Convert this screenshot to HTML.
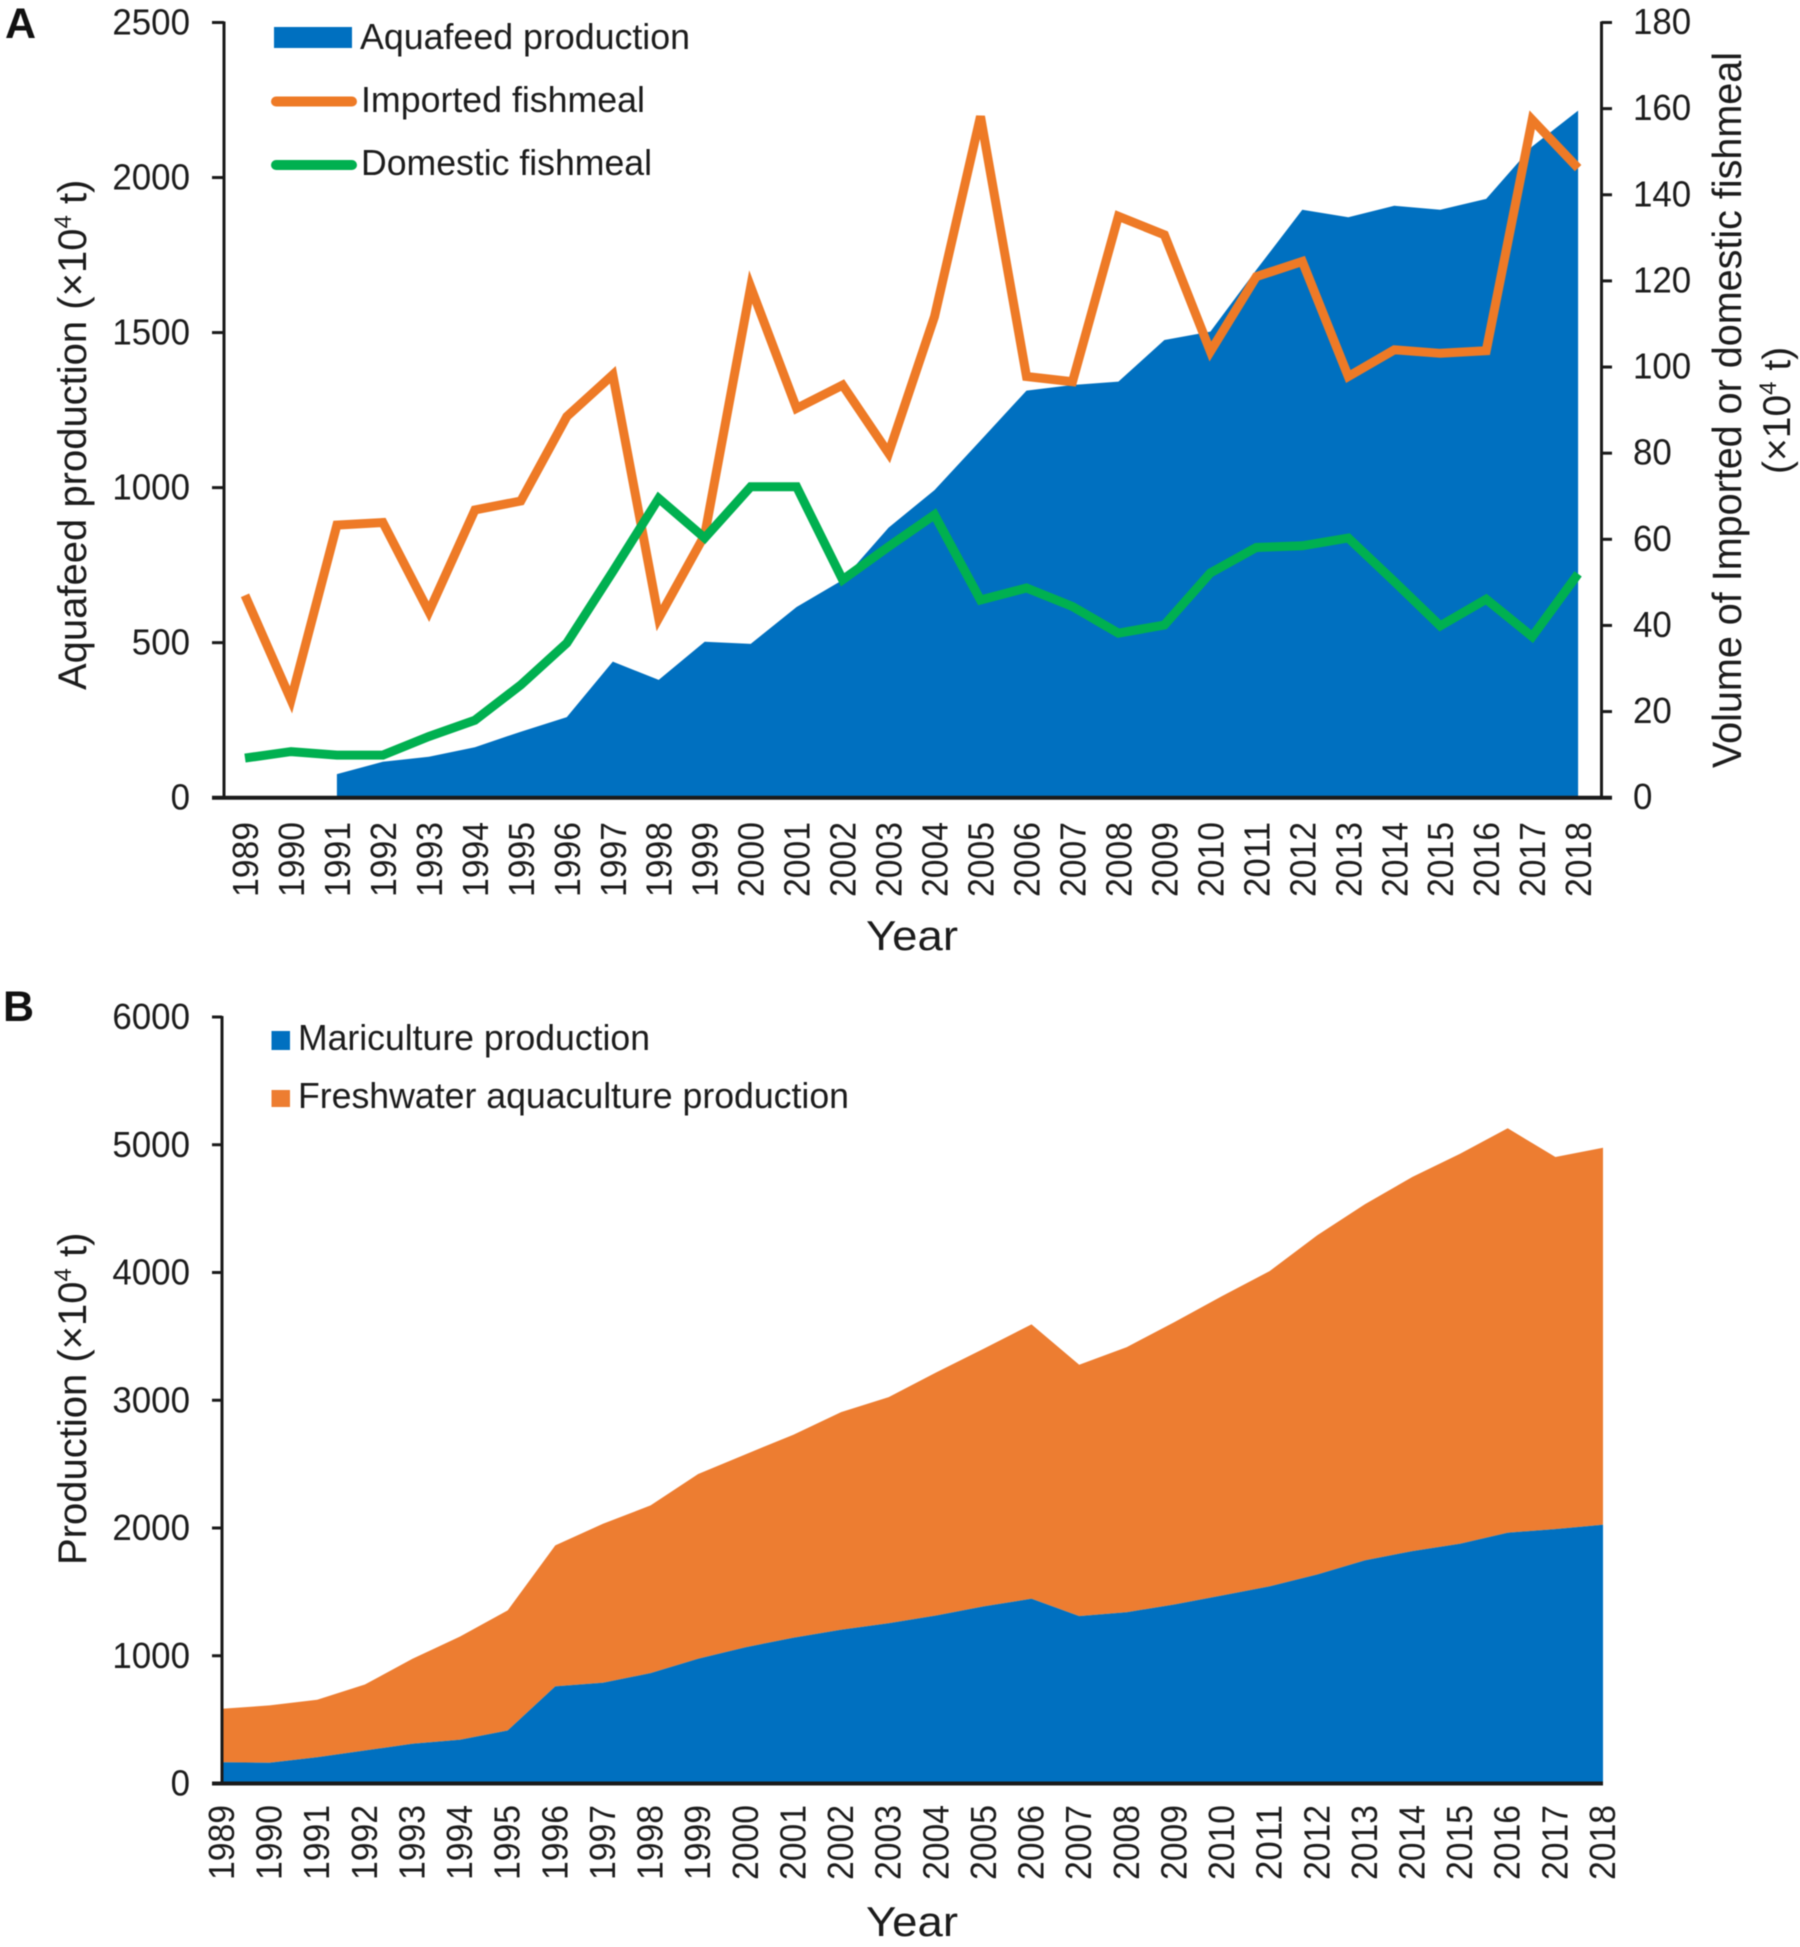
<!DOCTYPE html>
<html lang="en">
<head>
<meta charset="utf-8">
<title>Aquafeed, fishmeal and aquaculture production in China, 1989–2018</title>
<style>
  html, body { margin: 0; padding: 0; background: #fff; }
  svg { display: block; filter: blur(0.5px); }
  text { font-family: "Liberation Sans", Arial, sans-serif; fill: #1c1c1c; }
</style>
</head>
<body>
<svg id="figure" xmlns="http://www.w3.org/2000/svg" width="1800" height="1947" viewBox="0 0 1800 1947">
  <rect width="1800" height="1947" fill="#ffffff"/>

  <g id="panelA">
    <g id="a-marks"></g>
    <text x="5" y="38" font-size="43" font-weight="bold" style="fill:#111">A</text>
    <text transform="translate(86 690) rotate(-90)" font-size="40">Aquafeed production (×10<tspan dy="-15" font-size="24">4</tspan><tspan dy="15"> t)</tspan></text>
    <text transform="translate(1741 768) rotate(-90)" font-size="41" textLength="716" lengthAdjust="spacingAndGlyphs">Volume of Imported or domestic fishmeal</text>
    <text transform="translate(1790 474) rotate(-90)" font-size="39">(×10<tspan dy="-14" font-size="24">4</tspan><tspan dy="14"> t)</tspan></text>
    <text x="866" y="950" font-size="42" textLength="92" lengthAdjust="spacingAndGlyphs">Year</text>
    <g>
      <rect x="274" y="27" width="78" height="21" fill="#0070c0"/>
      <text x="360" y="49" font-size="36" textLength="330" lengthAdjust="spacingAndGlyphs">Aquafeed production</text>
      <line x1="276" y1="101.5" x2="352" y2="101.5" stroke="#ee7a26" stroke-width="10" stroke-linecap="round"/>
      <text x="361" y="112" font-size="36" textLength="284" lengthAdjust="spacingAndGlyphs">Imported fishmeal</text>
      <line x1="276" y1="165" x2="352" y2="165" stroke="#00b050" stroke-width="10" stroke-linecap="round"/>
      <text x="361" y="175" font-size="36" textLength="291" lengthAdjust="spacingAndGlyphs">Domestic fishmeal</text>
    </g>
  </g>

  <g id="panelB">
    <g id="b-marks"></g>
    <text x="3" y="1021" font-size="43" font-weight="bold" style="fill:#111">B</text>
    <text transform="translate(86 1565) rotate(-90)" font-size="40">Production (×10<tspan dy="-15" font-size="24">4</tspan><tspan dy="15"> t)</tspan></text>
    <text x="866" y="1936" font-size="42" textLength="92" lengthAdjust="spacingAndGlyphs">Year</text>
    <g>
      <rect x="271.5" y="1031" width="18.5" height="19" fill="#0070c0"/>
      <text x="298" y="1050" font-size="36" textLength="352" lengthAdjust="spacingAndGlyphs">Mariculture production</text>
      <rect x="271.5" y="1090" width="18.5" height="17" fill="#ed7d31"/>
      <text x="298" y="1108" font-size="36" textLength="551" lengthAdjust="spacingAndGlyphs">Freshwater aquaculture production</text>
    </g>
  </g>
</svg>

<script>
// Shared categories
const years = [1989,1990,1991,1992,1993,1994,1995,1996,1997,1998,1999,2000,2001,2002,2003,2004,2005,2006,2007,2008,2009,2010,2011,2012,2013,2014,2015,2016,2017,2018];

// Panel A values (null = not reported)
const aquafeedProduction = [null,null,76,116,132,163,213,260,439,380,503,496,615,702,871,992,1152,1313,1331,1342,1476,1503,1702,1896,1872,1909,1896,1931,2100,2216];
const importedFishmeal = [47,22.7,63.3,63.9,43.2,66.8,68.9,88.5,98.2,41.7,61,118.6,90.4,95.8,80,111.7,158.2,97.8,96.6,135,130.7,103.6,121,124.5,97.8,104,103.2,103.8,157.4,146.2];
const domesticFishmeal = [9.2,10.7,9.9,9.9,14.2,18,26.2,35.9,52.5,69.5,60.3,72.2,72.2,50.6,58.3,65.7,45.9,48.7,44.4,38.2,40.1,52.2,58.1,58.5,60.3,50.2,39.9,46.1,37.4,52];
const aLeftTicks = [0,500,1000,1500,2000,2500];
const aRightTicks = [0,20,40,60,80,100,120,140,160,180];

// Panel B values (stacked)
const maricultureProduction = [167,162,206,258,311,342,415,760,788,864,976,1067,1141,1203,1255,1315,1386,1446,1310,1341,1401,1472,1543,1636,1746,1819,1877,1963,1991,2025];
const freshwaterProduction = [418,449,449,517,665,809,940,1104,1245,1313,1447,1511,1589,1704,1770,1903,2018,2148,1968,2075,2211,2343,2468,2655,2788,2929,3053,3166,2913,2952];
const bTicks = [0,1000,2000,3000,4000,5000,6000];

const SVG_NS = 'http://www.w3.org/2000/svg';
const BLUE = '#0070c0', ORANGE = '#ed7d31', LINE_ORANGE = '#ee7a26', GREEN = '#00b050', AXIS = '#1a1a1a';

function make(tag, parent, attrs) {
  const el = document.createElementNS(SVG_NS, tag);
  for (const k in attrs) el.setAttribute(k, attrs[k]);
  parent.appendChild(el);
  return el;
}

// Axis functions
const A = { x0: 245, step: 45.97, yBase: 797.7, yTop: 22.5, leftMax: 2500, rightMax: 180, axisL: 224, axisR: 1601.5 };
const B = { x0: 222, step: 47.62, yBase: 1783.5, yTop: 1017, max: 6000, axisL: 222, right: 1603 };
const ax = i => A.x0 + A.step * i;
const ayL = v => A.yBase - (A.yBase - A.yTop) * v / A.leftMax;
const ayR = v => A.yBase - (A.yBase - A.yTop) * v / A.rightMax;
const bx = i => B.x0 + B.step * i;
const by = v => B.yBase - (B.yBase - B.yTop) * v / B.max;

function tickLabel(parent, x, y, str, anchor) {
  const t = make('text', parent, { x: x, y: y, 'font-size': 36, 'text-anchor': anchor, textLength: str.length * 19.4, lengthAdjust: 'spacingAndGlyphs' });
  t.textContent = str;
  
  
  return t;
}

function yearLabel(parent, x, yEnd, str) {
  const t = make('text', parent, { transform: 'translate(' + x + ' ' + yEnd + ') rotate(-90)', 'font-size': 36, textLength: 75, lengthAdjust: 'spacingAndGlyphs' });
  t.textContent = str;
  
  
  return t;
}

function axisLine(parent, x1, y1, x2, y2, w, name) {
  const l = make('line', parent, { x1: x1, y1: y1, x2: x2, y2: y2, stroke: AXIS, 'stroke-width': w });
  
  
  return l;
}

function areaPath(topPts, basePts) {
  const all = topPts.concat(basePts);
  return 'M' + all.map(p => p[0].toFixed(1) + ' ' + p[1].toFixed(1)).join('L') + 'Z';
}

// ----- Panel A -----
const am = document.getElementById('a-marks');
const feedPts = [];
aquafeedProduction.forEach((v, i) => { if (v !== null) feedPts.push([ax(i), ayL(v)]); });
const feedArea = make('path', am, {
  d: areaPath(feedPts, [[feedPts[feedPts.length - 1][0], A.yBase], [feedPts[0][0], A.yBase]]),
  fill: BLUE
});



axisLine(am, A.axisL, A.yTop - 1, A.axisL, A.yBase, 3, 'panel-a-left-axis');
axisLine(am, A.axisR, A.yTop - 1, A.axisR, A.yBase, 3, 'panel-a-right-axis');
axisLine(am, 212, A.yBase, 1612, A.yBase, 4, 'panel-a-x-axis');

aLeftTicks.forEach(v => {
  axisLine(am, 212, ayL(v), A.axisL, ayL(v), 3, 'panel-a-left-tick');
  tickLabel(am, 190, ayL(v) + 12, String(v), 'end');
});
aRightTicks.forEach(v => {
  axisLine(am, A.axisR, ayR(v), 1612, ayR(v), 3, 'panel-a-right-tick');
  tickLabel(am, 1633, ayR(v) + 11.5, String(v), 'start');
});
years.forEach((yr, i) => yearLabel(am, ax(i) + 13, 897, String(yr)));

const importedLine = make('polyline', am, {
  points: importedFishmeal.map((v, i) => ax(i).toFixed(1) + ',' + ayR(v).toFixed(1)).join(' '),
  fill: 'none', stroke: LINE_ORANGE, 'stroke-width': 9, 'stroke-linejoin': 'miter'
});



const domesticLine = make('polyline', am, {
  points: domesticFishmeal.map((v, i) => ax(i).toFixed(1) + ',' + ayR(v).toFixed(1)).join(' '),
  fill: 'none', stroke: GREEN, 'stroke-width': 9, 'stroke-linejoin': 'miter'
});



// ----- Panel B -----
const bm = document.getElementById('b-marks');
const mariTop = maricultureProduction.map((v, i) => [bx(i), by(v)]);
const totalTop = freshwaterProduction.map((v, i) => [bx(i), by(v + maricultureProduction[i])]);

const freshArea = make('path', bm, {
  d: areaPath(totalTop, mariTop.slice().reverse()),
  fill: ORANGE
});



const mariArea = make('path', bm, {
  d: areaPath(mariTop, [[bx(years.length - 1), B.yBase], [bx(0), B.yBase]]),
  fill: BLUE
});



axisLine(bm, B.axisL, B.yTop - 1, B.axisL, B.yBase, 3, 'panel-b-y-axis');
axisLine(bm, 212, B.yBase, B.right, B.yBase, 4, 'panel-b-x-axis');

bTicks.forEach(v => {
  axisLine(bm, 212, by(v), B.axisL, by(v), 3, 'panel-b-tick');
  tickLabel(bm, 190, by(v) + 12, String(v), 'end');
});
years.forEach((yr, i) => yearLabel(bm, bx(i) + 12, 1880, String(yr)));
</script>
</body>
</html>
